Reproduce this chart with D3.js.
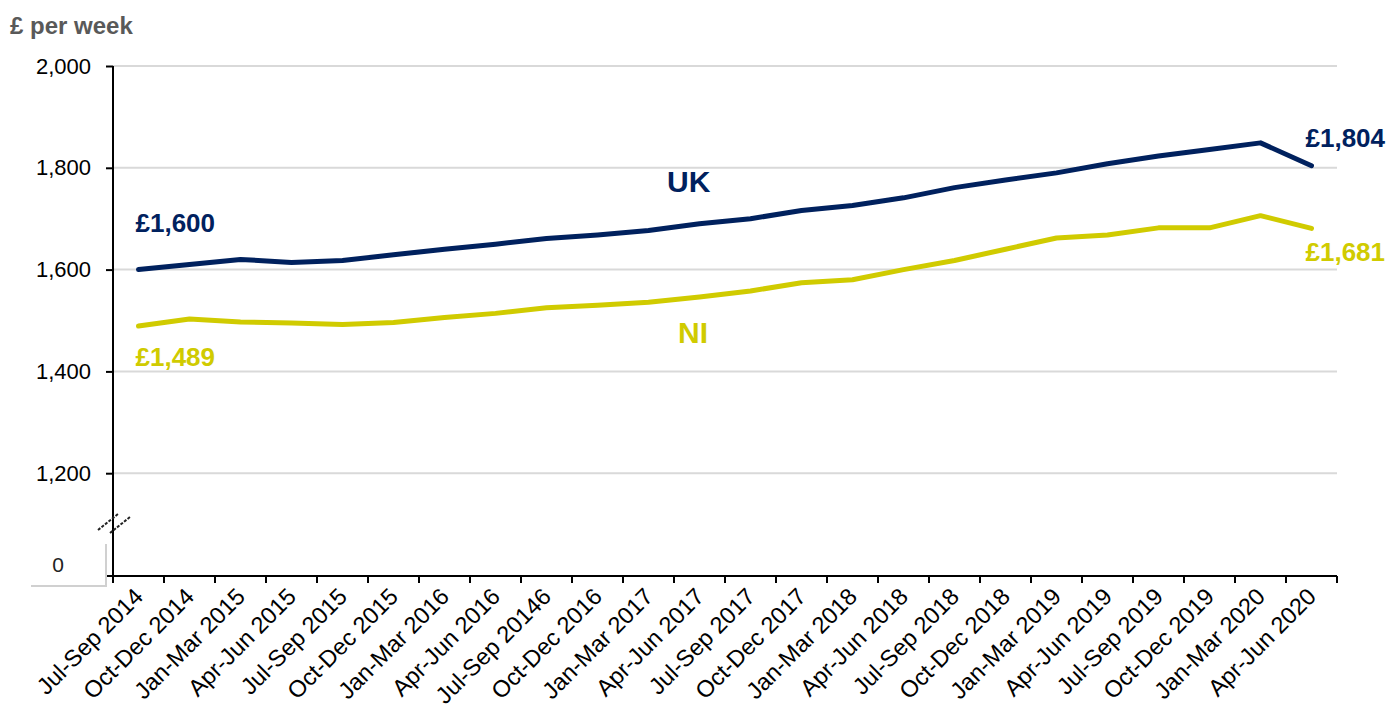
<!DOCTYPE html>
<html>
<head>
<meta charset="utf-8">
<script src="https://cdn.jsdelivr.net/npm/d3@7"></script>
<style>
  body { margin: 0; background: #fff; }
  text { font-family: "Liberation Sans", Arial, sans-serif; }
</style>
</head>
<body>
<div class="chart"></div>
<script>
const quarters = [
  "Jul-Sep 2014", "Oct-Dec 2014", "Jan-Mar 2015", "Apr-Jun 2015", "Jul-Sep 2015",
  "Oct-Dec 2015", "Jan-Mar 2016", "Apr-Jun 2016", "Jul-Sep 20146", "Oct-Dec 2016",
  "Jan-Mar 2017", "Apr-Jun 2017", "Jul-Sep 2017", "Oct-Dec 2017", "Jan-Mar 2018",
  "Apr-Jun 2018", "Jul-Sep 2018", "Oct-Dec 2018", "Jan-Mar 2019", "Apr-Jun 2019",
  "Jul-Sep 2019", "Oct-Dec 2019", "Jan-Mar 2020", "Apr-Jun 2020"
];
const uk = [1600, 1610, 1620, 1614, 1618, 1629, 1640, 1650, 1661, 1668, 1677, 1690,
  1700, 1716, 1726, 1741, 1761, 1776, 1790, 1808, 1823, 1836, 1849, 1804];
const ni = [1489, 1503, 1497, 1495, 1492, 1496, 1506, 1514, 1525, 1530, 1536, 1546,
  1558, 1574, 1580, 1600, 1618, 1640, 1662, 1668, 1682, 1682, 1706, 1681];
const yTicks = [1200, 1400, 1600, 1800, 2000];

const width = 1388;
const height = 706;
const navy = "#00215e";
const yellow = "#d0cb00";

const svg = d3.select(".chart").append("svg")
  .attr("width", width)
  .attr("height", height);

const x = d3.scaleBand().domain(quarters).range([113, 1337]);
const y = d3.scaleLinear().domain([1000, 2000]).range([575, 66]);
const cx = (d) => x(d) + x.bandwidth() / 2;

// gridlines
svg.selectAll("line.grid")
  .data(yTicks)
  .enter()
  .append("line")
  .attr("x1", 113)
  .attr("x2", 1337)
  .attr("y1", (d) => y(d))
  .attr("y2", (d) => y(d))
  .attr("stroke", "#d9d9d9")
  .attr("stroke-width", 2);

// y axis
const yAxis = svg.append("g")
  .attr("transform", "translate(113,0)")
  .call(d3.axisLeft(y).tickValues(yTicks).tickSize(7).tickPadding(15).tickFormat(d3.format(",")));
yAxis.select(".domain").attr("stroke", "#000").attr("stroke-width", 2)
  .attr("d", "M0," + y(2000) + "V576");
yAxis.selectAll(".tick line").attr("stroke", "#000").attr("stroke-width", 2);
yAxis.selectAll(".tick text")
  .attr("font-size", 22)
  .attr("font-family", "Liberation Sans, Arial, sans-serif")
  .attr("fill", "#000");

// x axis
const xAxis = svg.append("g")
  .attr("transform", "translate(0,576)")
  .call(d3.axisBottom(x).tickSize(0).tickFormat(""));
xAxis.select(".domain").attr("stroke", "#000").attr("stroke-width", 2)
  .attr("d", "M106,0H1337");
xAxis.selectAll(".tick").remove();

const edges = x.domain().map((d) => x(d)).concat([x.range()[1]]);
svg.selectAll("line.xtick")
  .data(edges)
  .enter()
  .append("line")
  .attr("x1", (d) => d)
  .attr("x2", (d) => d)
  .attr("y1", 576)
  .attr("y2", 583)
  .attr("stroke", "#000")
  .attr("stroke-width", 2);

svg.selectAll("text.xlab")
  .data(quarters)
  .enter()
  .append("text")
  .attr("transform", (d) => "translate(" + (cx(d) + 6) + ",598) rotate(-45)")
  .attr("text-anchor", "end")
  .attr("font-size", 23.5)
  .text((d) => d);

// axis break and zero box
svg.append("rect")
  .attr("x", 31).attr("y", 540).attr("width", 75).attr("height", 46)
  .attr("fill", "#fff");
svg.append("path")
  .attr("d", "M106,544V586H31")
  .attr("fill", "none")
  .attr("stroke", "#d0d0d0")
  .attr("stroke-width", 2);
svg.append("text")
  .attr("x", 58).attr("y", 572)
  .attr("text-anchor", "middle")
  .attr("font-size", 21)
  .attr("fill", "#222")
  .text("0");
svg.selectAll("line.brk")
  .data([0, 12])
  .enter()
  .append("line")
  .attr("x1", (d) => 98 + d)
  .attr("y1", (d) => 530 + d / 4)
  .attr("x2", (d) => 118 + d)
  .attr("y2", (d) => 514 + d / 4)
  .attr("stroke", "#222")
  .attr("stroke-width", 2)
  .attr("stroke-dasharray", "3,1.5");

// title
svg.append("text")
  .attr("x", 10).attr("y", 34)
  .attr("font-size", 24)
  .attr("font-weight", "bold")
  .attr("fill", "#595959")
  .text("£ per week");

// lines
const line = d3.line()
  .x((d, i) => cx(quarters[i]))
  .y((d) => y(d));

svg.append("path")
  .datum(ni)
  .attr("d", line)
  .attr("fill", "none")
  .attr("stroke", yellow)
  .attr("stroke-width", 5)
  .attr("stroke-linejoin", "round")
  .attr("stroke-linecap", "round");

svg.append("path")
  .datum(uk)
  .attr("d", line)
  .attr("fill", "none")
  .attr("stroke", navy)
  .attr("stroke-width", 5)
  .attr("stroke-linejoin", "round")
  .attr("stroke-linecap", "round");

// labels
const first = quarters[0];
const last = quarters[quarters.length - 1];
const fmt = d3.format(",");

svg.append("text")
  .attr("x", cx(first) - 3).attr("y", y(uk[0]) - 38)
  .attr("font-size", 26).attr("font-weight", "bold").attr("fill", navy)
  .text("£" + fmt(uk[0]));
svg.append("text")
  .attr("x", cx(first) - 3).attr("y", y(ni[0]) + 40)
  .attr("font-size", 26).attr("font-weight", "bold").attr("fill", yellow)
  .text("£" + fmt(ni[0]));
svg.append("text")
  .attr("x", cx(last) - 6).attr("y", y(uk[uk.length - 1]) - 19)
  .attr("font-size", 26).attr("font-weight", "bold").attr("fill", navy)
  .text("£" + fmt(uk[uk.length - 1]));
svg.append("text")
  .attr("x", cx(last) - 6).attr("y", y(ni[ni.length - 1]) + 33)
  .attr("font-size", 26).attr("font-weight", "bold").attr("fill", yellow)
  .text("£" + fmt(ni[ni.length - 1]));

svg.append("text")
  .attr("x", 667).attr("y", 192)
  .attr("font-size", 30).attr("font-weight", "bold").attr("fill", navy)
  .text("UK");
svg.append("text")
  .attr("x", 678).attr("y", 343)
  .attr("font-size", 30).attr("font-weight", "bold").attr("fill", yellow)
  .text("NI");
</script>
</body>
</html>
